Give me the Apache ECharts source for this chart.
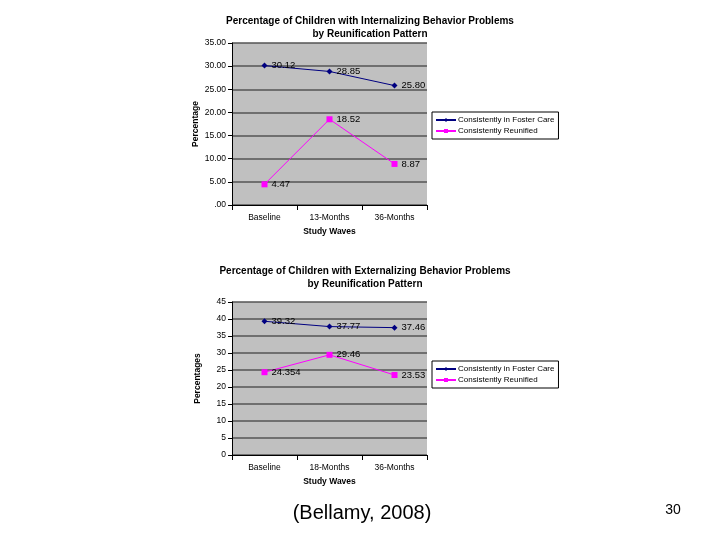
<!DOCTYPE html>
<html><head><meta charset="utf-8">
<script src="https://cdn.jsdelivr.net/npm/echarts@6/dist/echarts.min.js"></script>
<style>html,body{margin:0;padding:0;background:#fff;}#c{width:720px;height:540px;}</style>
</head><body><div id="c"></div>
<script>
const categories = ['Baseline', '13-Months', '36-Months'];
const categories2 = ['Baseline', '18-Months', '36-Months'];
const seriesNames = ['Consistently in Foster Care', 'Consistently Reunified'];
const intFoster = [30.12, 28.85, 25.80];
const intReunified = [4.47, 18.52, 8.87];
const extFoster = [39.32, 37.77, 37.46];
const extReunified = [24.354, 29.46, 23.53];
const intLabels = ['30.12', '28.85', '25.80'];
const intLabels2 = ['4.47', '18.52', '8.87'];
const extLabels = ['39.32', '37.77', '37.46'];
const extLabels2 = ['24.354', '29.46', '23.53'];

const chart = echarts.init(document.getElementById('c'));
const font = 'Arial, "Liberation Sans", sans-serif';
const navy = '#000080', mag = '#ff00ff';

function mkSeries(name, data, labels, xi, yi, color, sym, size) {
  return {
    name: name, type: 'line', xAxisIndex: xi, yAxisIndex: yi,
    data: data.map((v, i) => ({value: v, labelText: labels[i]})),
    symbol: sym, symbolSize: size, showAllSymbol: true,
    lineStyle: {color: color, width: 1},
    itemStyle: {color: color},
    label: {show: true, position: 'right', distance: 4, fontFamily: font, fontSize: 9.5, color: '#000',
      formatter: p => p.data.labelText},
    z: 3
  };
}

const xAxisCommon = {
  type: 'category', boundaryGap: true,
  axisLine: {lineStyle: {color: '#000', width: 1}},
  axisTick: {show: true, length: 5, lineStyle: {color: '#000'}},
  axisLabel: {fontFamily: font, fontSize: 8.5, color: '#000', margin: 8},
  nameLocation: 'middle', nameGap: 22,
  nameTextStyle: {fontFamily: font, fontSize: 8.5, fontWeight: 'bold', color: '#000'}
};
const yAxisCommon = {
  type: 'value', min: 0,
  axisLine: {show: true, lineStyle: {color: '#000', width: 1}},
  axisTick: {show: true, length: 4, lineStyle: {color: '#000'}},
  axisLabel: {fontFamily: font, fontSize: 8.5, color: '#000', margin: 6},
  splitLine: {show: true, lineStyle: {color: '#555', width: 1.5}},
  nameLocation: 'middle', nameRotate: 90,
  nameTextStyle: {fontFamily: font, fontSize: 8.5, fontWeight: 'bold', color: '#000'}
};
const legendCommon = {
  orient: 'vertical', left: 432, backgroundColor: '#fff', borderColor: '#000', borderWidth: 1,
  padding: [4, 4, 4, 3], itemGap: 3, itemWidth: 20, itemHeight: 5,
  textStyle: {fontFamily: font, fontSize: 8, color: '#000', padding: [0, 0, 0, -3]}, selectedMode: false
};

chart.setOption({
  animation: false,
  title: [
    {text: 'Percentage of Children with Internalizing Behavior Problems\nby Reunification Pattern',
     left: 365, textAlign: 'center', top: 10,
     textStyle: {fontFamily: font, fontSize: 10, fontWeight: 'bold', color: '#000', lineHeight: 13}},
    {text: 'Percentage of Children with Externalizing Behavior Problems\nby Reunification Pattern',
     left: 360, textAlign: 'center', top: 260,
     textStyle: {fontFamily: font, fontSize: 10, fontWeight: 'bold', color: '#000', lineHeight: 13}},
    {text: '(Bellamy, 2008)', left: 357, textAlign: 'center', top: 498,
     textStyle: {fontFamily: font, fontSize: 20, fontWeight: 'normal', color: '#000'}},
    {text: '30', left: 668, textAlign: 'center', top: 498,
     textStyle: {fontFamily: font, fontSize: 14, fontWeight: 'normal', color: '#000'}}
  ],
  grid: [
    {left: 232, top: 43, width: 195, height: 162, show: true, backgroundColor: '#c0c0c0', borderWidth: 0},
    {left: 232, top: 302, width: 195, height: 153, show: true, backgroundColor: '#c0c0c0', borderWidth: 0}
  ],
  xAxis: [
    Object.assign({}, xAxisCommon, {gridIndex: 0, data: categories, name: 'Study Waves'}),
    Object.assign({}, xAxisCommon, {gridIndex: 1, data: categories2, name: 'Study Waves'})
  ],
  yAxis: [
    Object.assign({}, yAxisCommon, {gridIndex: 0, max: 35, interval: 5, name: 'Percentage', nameGap: 32,
      axisLabel: Object.assign({}, yAxisCommon.axisLabel, {formatter: v => v === 0 ? '.00' : v.toFixed(2)})}),
    Object.assign({}, yAxisCommon, {gridIndex: 1, max: 45, interval: 5, name: 'Percentages', nameGap: 30})
  ],
  legend: [
    Object.assign({}, legendCommon, {top: 112, data: seriesNames}),
    Object.assign({}, legendCommon, {top: 361, data: seriesNames})
  ],
  series: [
    mkSeries(seriesNames[0], intFoster, intLabels, 0, 0, navy, 'diamond', 6),
    mkSeries(seriesNames[1], intReunified, intLabels2, 0, 0, mag, 'rect', 6),
    mkSeries(seriesNames[0], extFoster, extLabels, 1, 1, navy, 'diamond', 6),
    mkSeries(seriesNames[1], extReunified, extLabels2, 1, 1, mag, 'rect', 6)
  ]
});
</script>
</body></html>
